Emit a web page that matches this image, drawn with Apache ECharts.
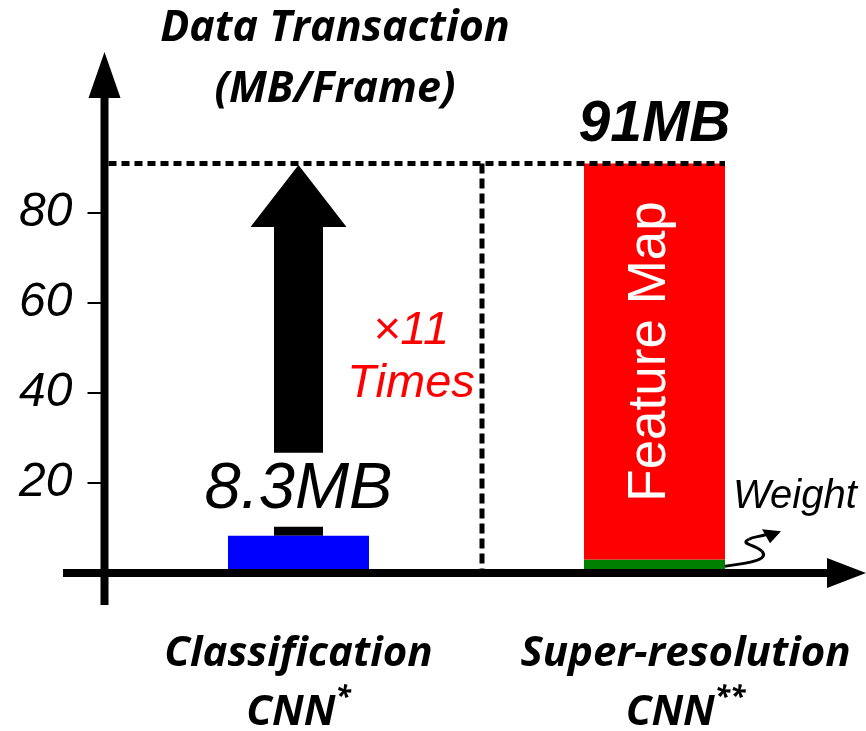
<!DOCTYPE html>
<html>
<head>
<meta charset="utf-8">
<title>Data Transaction per Frame</title>
<script src="https://cdn.jsdelivr.net/npm/echarts@6/dist/echarts.min.js"></script>
<style>
  html, body { margin: 0; padding: 0; background: #fff; }
  #chart { width: 866px; height: 731px; }
</style>
</head>
<body>
<div id="chart"></div>
<script>
// ---- data (MB per frame) ----
const categories = ['Classification\nCNN*', 'Super-resolution\nCNN**'];
const classificationMB = [8.3, '-'];
const weightMB = ['-', 3];
const featureMapMB = ['-', 88];
const yTickValues = [20, 40, 60, 80];
const ratioText = ['×11', 'Times'];

// ---- layout ----
const GRID_LEFT = 120.5;
const GRID_RIGHT = 33.5;
const GRID_TOP = 123;
const GRID_BOTTOM = 158;
const Y_AXIS_OFFSET = 16;
const BAR_WIDTH = 141;

const SANS = '"Liberation Sans", Arial, sans-serif';
const HUMAN = '"Open Sans", Lato, sans-serif';

const totalMB = weightMB[1] + featureMapMB[1];

const chart = echarts.init(document.getElementById('chart'), null, { renderer: 'canvas' });

const option = {
  animation: false,
  backgroundColor: '#ffffff',
  title: {
    text: 'Data Transaction\n(MB/Frame)',
    left: 330,
    top: -7,
    textAlign: 'center',
    textStyle: {
      fontFamily: HUMAN, fontWeight: 'bold', fontStyle: 'italic',
      fontSize: 43, lineHeight: 61, color: '#000'
    }
  },
  grid: {
    left: GRID_LEFT, right: GRID_RIGHT, top: GRID_TOP, bottom: GRID_BOTTOM,
    outerBoundsMode: 'none'
  },
  xAxis: {
    type: 'category',
    data: [
      { value: categories[0] },
      { value: categories[1], textStyle: { padding: [0, 0, 0, 62] } }
    ],
    axisLine: { show: false },
    axisTick: { show: false },
    axisLabel: {
      margin: 52,
      interval: 0,
      formatter: function (v) {
        const lines = v.split('\n');
        const m = lines[1].match(/^([^*]*)(\**)$/);
        return '{b|' + lines[0] + '}\n{b|' + m[1] + '}{s|' + m[2] + '}';
      },
      rich: {
        b: { fontFamily: HUMAN, fontWeight: 'bold', fontStyle: 'italic', fontSize: 42, lineHeight: 59, color: '#000' },
        s: { fontFamily: HUMAN, fontWeight: 'bold', fontStyle: 'italic', fontSize: 28, lineHeight: 28, verticalAlign: 'top', color: '#000' }
      }
    }
  },
  yAxis: {
    type: 'value',
    min: 0,
    max: 100,
    interval: 20,
    offset: Y_AXIS_OFFSET,
    splitLine: { show: false },
    axisLine: { show: false },
    axisTick: {
      show: true, length: 17, customValues: yTickValues,
      lineStyle: { color: '#000', width: 2 }
    },
    axisLabel: {
      margin: 32,
      customValues: yTickValues,
      fontFamily: SANS, fontStyle: 'italic', fontSize: 48, color: '#000'
    }
  },
  series: [
    {
      // arrow rising from the classification bar to the super-resolution total
      type: 'custom',
      z: 1,
      silent: true,
      data: [[0, classificationMB[0], totalMB]],
      renderItem: function (params, api) {
        const base = api.coord([api.value(0), api.value(1)]);
        const tip = api.coord([api.value(0), api.value(2)]);
        const cx = base[0];
        const shaft = 24.5, head = 48, headH = 62;
        const ty = tip[1] + 1.5;
        return {
          type: 'polygon',
          shape: {
            points: [
              [cx - shaft, base[1]], [cx - shaft, ty + headH], [cx - head, ty + headH],
              [cx, ty], [cx + head, ty + headH], [cx + shaft, ty + headH], [cx + shaft, base[1]]
            ]
          },
          style: { fill: '#000' }
        };
      }
    },
    {
      name: 'Classification',
      type: 'bar',
      stack: 'mb',
      barWidth: BAR_WIDTH,
      z: 2,
      itemStyle: { color: '#0000ff' },
      data: classificationMB,
      label: {
        show: true,
        position: 'top',
        distance: 9,
        formatter: '{c}MB',
        fontFamily: SANS, fontStyle: 'italic', fontSize: 65, color: '#000',
        backgroundColor: '#ffffff',
        padding: [5, 0, 4, 0]
      }
    },
    {
      name: 'Weight',
      type: 'bar',
      stack: 'mb',
      barWidth: BAR_WIDTH,
      z: 2,
      itemStyle: { color: '#008000' },
      data: weightMB
    },
    {
      name: 'Feature Map',
      type: 'bar',
      stack: 'mb',
      barWidth: BAR_WIDTH,
      z: 2,
      itemStyle: { color: '#ff0000' },
      data: featureMapMB,
      label: {
        show: true,
        position: 'inside',
        rotate: 90,
        offset: [10, -4],
        formatter: '{a}',
        fontFamily: SANS, fontSize: 53, color: '#fff'
      },
      markPoint: {
        symbol: 'circle',
        symbolSize: 1,
        silent: true,
        itemStyle: { color: 'rgba(0,0,0,0)' },
        data: [{ coord: [1, totalMB], value: totalMB }],
        label: {
          show: true,
          position: 'top',
          distance: 9,
          formatter: '{c}MB',
          fontFamily: SANS, fontWeight: 'bold', fontStyle: 'italic', fontSize: 57, color: '#000'
        }
      }
    }
  ]
};

chart.setOption(option);

// ---- axes, guide lines and annotations placed from the axis scales ----
const zeroY = chart.convertToPixel({ yAxisIndex: 0 }, 0);
const totalY = chart.convertToPixel({ yAxisIndex: 0 }, totalMB);
const cat0X = chart.convertToPixel({ xAxisIndex: 0 }, 0);
const cat1X = chart.convertToPixel({ xAxisIndex: 0 }, 1);
const axisX = GRID_LEFT - Y_AXIS_OFFSET;
const chartW = chart.getWidth();
const barRight = cat1X + BAR_WIDTH / 2;
const sepX = (cat0X + cat1X) / 2 + 5.5;
const weightY = chart.convertToPixel({ yAxisIndex: 0 }, weightMB[1] / 2);

// squiggle from the weight slice out to its caption
const sx = barRight, sy = weightY;
function curve(x1, y1, c1x, c1y, c2x, c2y, x2, y2) {
  return {
    type: 'bezierCurve', z: 5,
    shape: { x1: sx + x1, y1: sy + y1, cpx1: sx + c1x, cpy1: sy + c1y, cpx2: sx + c2x, cpy2: sy + c2y, x2: sx + x2, y2: sy + y2 },
    style: { stroke: '#000', lineWidth: 3, fill: null }
  };
}

chart.setOption({
  graphic: [
    // y axis with arrow head
    { type: 'rect', z: 10, shape: { x: axisX - 4, y: zeroY - 476, width: 8, height: 508 }, style: { fill: '#000' } },
    { type: 'polygon', z: 10, shape: { points: [[axisX - 16, zeroY - 475], [axisX + 16, zeroY - 475], [axisX, zeroY - 521]] }, style: { fill: '#000' } },
    // x axis with arrow head
    { type: 'rect', z: 10, shape: { x: 63, y: zeroY - 4, width: chartW - 63 - 38, height: 8 }, style: { fill: '#000' } },
    { type: 'polygon', z: 10, shape: { points: [[chartW - 39, zeroY - 15], [chartW - 39, zeroY + 15], [chartW, zeroY]] }, style: { fill: '#000' } },
    // dashed guide at the super-resolution total
    { type: 'line', z: 3, shape: { x1: axisX + 4, y1: totalY, x2: barRight, y2: totalY },
      style: { stroke: '#000', lineWidth: 5, lineDash: [8, 5] } },
    // dashed separator between the two networks
    { type: 'line', z: 3, shape: { x1: sepX, y1: totalY, x2: sepX, y2: zeroY },
      style: { stroke: '#000', lineWidth: 5, lineDash: [10, 5] } },
    // ratio annotation
    { type: 'text', z: 5,
      style: { x: 411, y: 304, text: ratioText.join('\n'), textAlign: 'center',
        fontFamily: SANS, fontStyle: 'italic', fontSize: 47, lineHeight: 53, fill: '#ff0000' } },
    // weight caption with its squiggly pointer
    curve(0, 0, 22, -3, 45, -6, 37, -15),
    curve(37, -15, 30, -22, 14, -22, 24, -27),
    curve(24, -27, 29, -30, 34, -29, 42, -32),
    { type: 'polygon', z: 5, shape: { points: [[sx + 37, sy - 37], [sx + 56, sy - 35], [sx + 45, sy - 23]] }, style: { fill: '#000' } },
    { type: 'text', z: 5,
      style: { x: sx + 8, y: sy - 89, text: 'Weight',
        fontFamily: SANS, fontStyle: 'italic', fontSize: 40, fill: '#000' } }
  ]
});
</script>
</body>
</html>
